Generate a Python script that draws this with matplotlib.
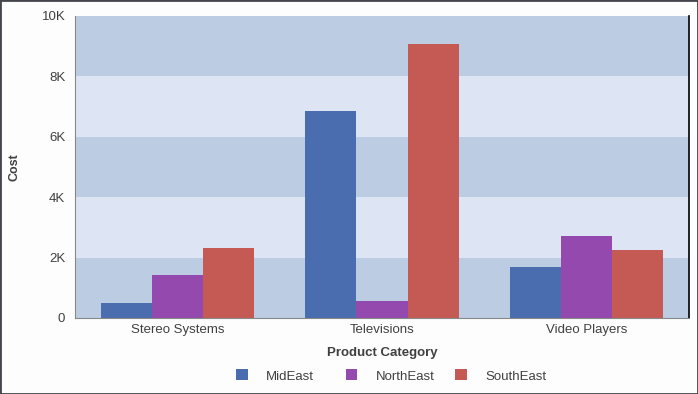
import matplotlib
matplotlib.use("Agg")
import matplotlib.pyplot as plt
import numpy as np
from matplotlib.patches import Rectangle

plt.rcParams['font.family'] = ['Liberation Sans', 'DejaVu Sans']

categories = ["Stereo Systems", "Televisions", "Video Players"]
series_names = ["MidEast", "NorthEast", "SouthEast"]
mideast = [497, 6850, 1690]
northeast = [1420, 560, 2720]
southeast = [2320, 9070, 2250]
y_ticks = [0, 2000, 4000, 6000, 8000, 10000]
y_tick_labels = ["0", "2K", "4K", "6K", "8K", "10K"]
colors = ["#4a6daf", "#9449ae", "#c55a54"]
txt = "#404040"

fig = plt.figure(figsize=(6.98, 3.94), dpi=100)
fig.patch.set_facecolor("#fcfdfc")
fig.patches.append(Rectangle((0, 0), 1, 1, transform=fig.transFigure, fill=False,
                             edgecolor="#44464c", linewidth=2.0))

ax = fig.add_axes([75/698, (394-318)/394, 614/698, 302/394])
ax.set_xlim(-0.5, 2.5)
ax.set_ylim(0, 10000)

# background bands
for i in range(5):
    ax.axhspan(i*2000, (i+1)*2000, color="#bccde3" if i % 2 == 0 else "#dde5f4", zorder=0, lw=0)

x = np.arange(len(categories))
w = 0.25
for k, (vals, name) in enumerate(zip([mideast, northeast, southeast], series_names)):
    ax.bar(x + (k-1)*w, vals, width=w, color=colors[k], label=name, zorder=2, lw=0)

ax.set_xticks(x)
ax.set_xticklabels(categories, fontsize=9.5, color=txt)
ax.set_yticks(y_ticks)
ax.set_yticklabels(y_tick_labels, fontsize=9.5, color=txt)
ax.tick_params(length=0, pad=7)
ax.tick_params(axis='x', pad=4)

ax.spines["top"].set_visible(False)
ax.spines["left"].set_color("#888888")
ax.spines["bottom"].set_color("#888888")
ax.spines["right"].set_color("#000000")
ax.spines["right"].set_linewidth(1.2)

fig.text(15/698, 1 - 167/394, "Cost", rotation=90, fontsize=9, fontweight="bold",
         color=txt, ha="center", va="center")
fig.text(382/698, 1 - 353/394, "Product Category", fontsize=9.5, fontweight="bold",
         color=txt, ha="center", va="center")

# legend: one slot per series, evenly spaced like the reference
handles, labels = ax.get_legend_handles_labels()
slot_x = [236, 345.5, 455]
for h, l, sx in zip(handles, labels, slot_x):
    leg = fig.legend([h], [l], loc="center left", bbox_to_anchor=(sx/698, 1 - 376/394),
                     frameon=False, fontsize=9.5, handlelength=0.9, handleheight=0.9,
                     handletextpad=1.4, borderpad=0, borderaxespad=0)
    for t in leg.get_texts():
        t.set_color(txt)

fig.savefig("out.png", dpi=100, facecolor=fig.get_facecolor())
